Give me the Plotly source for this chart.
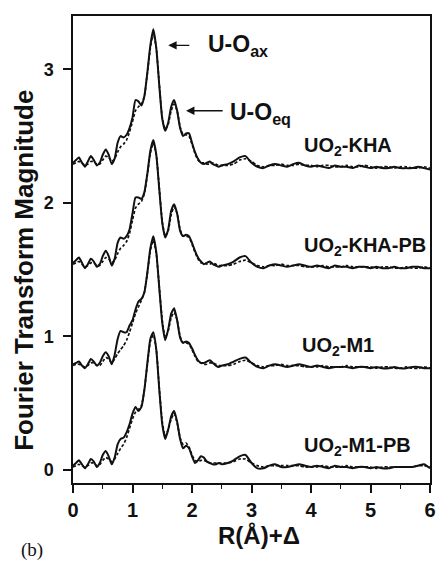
import plotly.graph_objects as go

# R grid (Å)
r = [0.00,0.05,0.10,0.15,0.20,0.25,0.30,0.35,0.40,0.45,
     0.50,0.55,0.60,0.65,0.70,0.75,0.80,0.85,0.90,0.95,
     1.00,1.05,1.10,1.15,1.20,1.25,1.30,1.35,1.40,1.45,
     1.50,1.55,1.60,1.65,1.70,1.75,1.80,1.85,1.90,1.95,
     2.00,2.05,2.10,2.15,2.20,2.25,2.30,2.35,2.40,2.45,
     2.50,
     2.6,2.7,2.8,2.9,3.0,3.1,3.2,3.3,3.4,3.5,
     3.6,3.7,3.8,3.9,4.0,4.1,4.2,4.3,4.4,4.5,
     4.6,4.7,4.8,4.9,5.0,5.1,5.2,5.3,5.4,5.5,
     5.6,5.7,5.8,5.9,6.0]

kha_data = [2.30,2.32,2.34,2.30,2.27,2.31,2.35,2.32,2.28,2.30,
            2.36,2.40,2.36,2.29,2.33,2.45,2.50,2.49,2.51,2.56,
            2.64,2.77,2.76,2.73,2.80,2.98,3.18,3.30,3.16,2.88,
            2.63,2.54,2.60,2.72,2.77,2.69,2.56,2.50,2.52,2.52,
            2.45,2.38,2.33,2.30,2.29,2.30,2.31,2.29,2.28,2.27,
            2.28,
            2.29,2.31,2.34,2.35,2.30,2.27,2.26,2.28,2.29,2.28,
            2.27,2.29,2.30,2.28,2.27,2.28,2.27,2.26,2.28,2.27,
            2.27,2.26,2.28,2.27,2.26,2.27,2.26,2.26,2.27,2.26,
            2.26,2.26,2.27,2.26,2.25]
kha_fit = [2.29,2.30,2.31,2.30,2.28,2.29,2.31,2.31,2.29,2.29,
           2.32,2.35,2.34,2.31,2.33,2.38,2.42,2.44,2.47,2.53,
           2.61,2.69,2.72,2.74,2.80,2.97,3.16,3.27,3.16,2.89,
           2.64,2.55,2.59,2.69,2.74,2.69,2.57,2.51,2.51,2.50,
           2.44,2.37,2.32,2.30,2.30,2.29,2.29,2.30,2.29,2.28,
           2.28,
           2.28,2.29,2.32,2.33,2.31,2.28,2.27,2.28,2.28,2.29,
           2.28,2.28,2.29,2.28,2.28,2.27,2.28,2.28,2.27,2.27,
           2.28,2.27,2.27,2.28,2.27,2.26,2.27,2.27,2.26,2.27,
           2.27,2.26,2.26,2.27,2.26]

khapb_data = [1.55,1.57,1.59,1.55,1.51,1.54,1.58,1.56,1.52,1.54,
              1.60,1.64,1.60,1.53,1.58,1.70,1.74,1.73,1.75,1.80,
              1.92,2.04,2.04,2.03,2.08,2.22,2.39,2.47,2.36,2.10,
              1.85,1.74,1.80,1.94,1.99,1.92,1.79,1.75,1.76,1.75,
              1.70,1.64,1.59,1.56,1.54,1.55,1.56,1.54,1.53,1.52,
              1.53,
              1.54,1.56,1.59,1.60,1.55,1.52,1.51,1.53,1.54,1.53,
              1.52,1.53,1.54,1.53,1.52,1.53,1.52,1.51,1.53,1.52,
              1.52,1.51,1.52,1.52,1.51,1.52,1.51,1.51,1.52,1.51,
              1.51,1.52,1.52,1.51,1.51]
khapb_fit = [1.54,1.55,1.56,1.54,1.52,1.53,1.55,1.55,1.53,1.53,
             1.56,1.59,1.58,1.55,1.57,1.62,1.66,1.68,1.71,1.77,
             1.87,1.96,1.99,2.01,2.07,2.21,2.37,2.45,2.36,2.11,
             1.86,1.75,1.79,1.91,1.97,1.92,1.80,1.75,1.75,1.74,
             1.69,1.63,1.58,1.55,1.55,1.54,1.54,1.55,1.54,1.53,
             1.53,
             1.53,1.54,1.56,1.57,1.55,1.53,1.52,1.53,1.53,1.54,
             1.53,1.53,1.53,1.52,1.52,1.52,1.53,1.52,1.52,1.52,
             1.53,1.52,1.52,1.52,1.52,1.51,1.52,1.52,1.51,1.51,
             1.52,1.51,1.51,1.52,1.51]

m1_data = [0.79,0.80,0.81,0.78,0.76,0.79,0.83,0.81,0.78,0.80,
           0.85,0.88,0.85,0.79,0.86,0.98,1.04,1.03,1.03,1.08,
           1.12,1.20,1.26,1.28,1.33,1.48,1.66,1.75,1.63,1.36,
           1.10,0.97,1.05,1.17,1.21,1.12,0.99,0.95,0.96,0.95,
           0.91,0.86,0.82,0.80,0.80,0.81,0.82,0.80,0.78,0.77,
           0.78,
           0.79,0.81,0.83,0.84,0.80,0.77,0.76,0.78,0.79,0.78,
           0.77,0.78,0.79,0.78,0.77,0.78,0.77,0.76,0.77,0.77,
           0.77,0.76,0.77,0.77,0.76,0.77,0.76,0.76,0.77,0.76,
           0.76,0.77,0.77,0.76,0.76]
m1_fit = [0.78,0.79,0.79,0.78,0.77,0.78,0.80,0.80,0.78,0.78,
          0.81,0.84,0.83,0.80,0.83,0.87,0.90,0.93,0.97,1.03,
          1.10,1.17,1.22,1.27,1.33,1.47,1.64,1.72,1.62,1.37,
          1.12,0.99,1.04,1.14,1.18,1.12,1.00,0.95,0.95,0.94,
          0.90,0.85,0.81,0.80,0.79,0.79,0.80,0.80,0.79,0.78,
          0.78,
          0.78,0.79,0.81,0.82,0.80,0.78,0.77,0.78,0.78,0.79,
          0.78,0.78,0.78,0.77,0.77,0.77,0.78,0.77,0.77,0.77,
          0.78,0.77,0.77,0.77,0.77,0.76,0.77,0.77,0.76,0.76,
          0.77,0.76,0.76,0.77,0.76]

m1pb_data = [0.03,0.05,0.07,0.04,0.01,0.04,0.08,0.06,0.02,0.05,
             0.11,0.14,0.10,0.04,0.09,0.19,0.23,0.24,0.28,0.34,
             0.42,0.47,0.44,0.47,0.60,0.80,0.98,1.03,0.90,0.60,
             0.34,0.23,0.30,0.40,0.44,0.36,0.23,0.16,0.18,0.16,
             0.10,0.05,0.07,0.10,0.09,0.06,0.05,0.04,0.04,0.05,
             0.04,
             0.05,0.07,0.10,0.11,0.05,0.01,0.01,0.03,0.04,0.02,
             0.02,0.03,0.04,0.03,0.02,0.03,0.02,0.01,0.03,0.02,
             0.02,0.01,0.02,0.02,0.01,0.02,0.01,0.01,0.02,0.02,
             0.02,0.02,0.03,0.04,0.01]
m1pb_fit = [0.02,0.03,0.04,0.03,0.02,0.03,0.05,0.05,0.03,0.04,
            0.07,0.09,0.08,0.06,0.08,0.12,0.16,0.19,0.24,0.31,
            0.38,0.43,0.45,0.48,0.60,0.79,0.96,1.01,0.90,0.61,
            0.36,0.25,0.30,0.38,0.42,0.35,0.24,0.19,0.20,0.17,
            0.11,0.07,0.06,0.07,0.07,0.06,0.05,0.05,0.05,0.05,
            0.05,
            0.05,0.06,0.08,0.08,0.05,0.03,0.02,0.03,0.03,0.03,
            0.03,0.03,0.03,0.02,0.02,0.02,0.03,0.02,0.02,0.02,
            0.03,0.02,0.02,0.02,0.02,0.01,0.02,0.02,0.02,0.02,
            0.02,0.02,0.03,0.03,0.02]

sample_labels = ["UO<sub>2</sub>-KHA", "UO<sub>2</sub>-KHA-PB",
                 "UO<sub>2</sub>-M1", "UO<sub>2</sub>-M1-PB"]
x_ticks = [0, 1, 2, 3, 4, 5, 6]
y_ticks = [0, 1, 2, 3]

FONT = "Liberation Sans, Arial, sans-serif"
INK = "#111111"

fig = go.Figure()
for data, fit in [(kha_data, kha_fit), (khapb_data, khapb_fit),
                  (m1_data, m1_fit), (m1pb_data, m1pb_fit)]:
    fig.add_trace(go.Scatter(x=r, y=fit, mode="lines",
                             line=dict(color=INK, width=1.7, dash="3px,2px", shape="spline", smoothing=0.5),
                             showlegend=False, hoverinfo="skip"))
    fig.add_trace(go.Scatter(x=r, y=data, mode="lines",
                             line=dict(color=INK, width=2.0, shape="spline", smoothing=0.5),
                             showlegend=False, hoverinfo="skip"))

label_pos = [(3.85, 2.42), (3.85, 1.67), (3.82, 0.92), (3.85, 0.17)]
annotations = []
for lab, (lx, ly) in zip(sample_labels, label_pos):
    annotations.append(dict(x=lx, y=ly, xref="x", yref="y", text=lab, showarrow=False,
                            xanchor="left", yanchor="middle",
                            font=dict(family=FONT, size=20, color=INK, weight="bold")))

# peak labels with arrows
annotations.append(dict(x=2.23, y=3.18, xref="x", yref="y", text="U-O<sub>ax</sub>",
                        showarrow=False, xanchor="left", yanchor="middle",
                        font=dict(family=FONT, size=23, color=INK, weight="bold")))
annotations.append(dict(x=1.60, y=3.18, xref="x", yref="y", ax=1.98, ay=3.18,
                        axref="x", ayref="y", text="", showarrow=True,
                        arrowhead=2, arrowsize=1.2, arrowwidth=1.4, arrowcolor=INK))
annotations.append(dict(x=2.61, y=2.67, xref="x", yref="y", text="U-O<sub>eq</sub>",
                        showarrow=False, xanchor="left", yanchor="middle",
                        font=dict(family=FONT, size=23, color=INK, weight="bold")))
annotations.append(dict(x=1.90, y=2.69, xref="x", yref="y", ax=2.54, ay=2.69,
                        axref="x", ayref="y", text="", showarrow=True,
                        arrowhead=2, arrowsize=1.2, arrowwidth=1.4, arrowcolor=INK))

# axis titles
annotations.append(dict(x=0.52, y=-0.112, xref="paper", yref="paper", text="R(Å)+Δ",
                        showarrow=False, xanchor="center", yanchor="middle",
                        font=dict(family=FONT, size=24, color=INK, weight="bold")))
annotations.append(dict(x=-0.138, y=0.456, xref="paper", yref="paper",
                        text="Fourier Transform Magnitude", textangle=-90,
                        showarrow=False, xanchor="center", yanchor="middle",
                        font=dict(family=FONT, size=26, color=INK, weight="bold")))
annotations.append(dict(x=-0.152, y=-0.143, xref="paper", yref="paper", text="(b)",
                        showarrow=False, xanchor="left", yanchor="middle",
                        font=dict(family="Liberation Serif, Times New Roman, serif", size=19, color=INK)))

fig.update_layout(
    width=442, height=561,
    margin=dict(l=73, r=6, t=16, b=78),
    paper_bgcolor="white", plot_bgcolor="white",
    annotations=annotations,
    showlegend=False,
)
fig.update_xaxes(range=[0, 6], tickvals=x_ticks, ticks="outside", ticklen=8, tickwidth=1.5,
                 tickcolor=INK, showline=True, linecolor=INK, linewidth=1.5, mirror=True,
                 showgrid=False, zeroline=False, ticklabelstandoff=0,
                 tickfont=dict(family=FONT, size=20, color=INK, weight="bold"),
                 minor=dict(ticks="outside", ticklen=4, tickwidth=1.2, tickcolor=INK, dtick=0.5, showgrid=False))
fig.update_yaxes(range=[-0.1, 3.4], tickvals=y_ticks, ticks="outside", ticklen=8, tickwidth=1.5,
                 tickcolor=INK, showline=True, linecolor=INK, linewidth=1.5, mirror=True,
                 showgrid=False, zeroline=False, ticklabelstandoff=6,
                 tickfont=dict(family=FONT, size=18, color=INK, weight="bold"))

fig.write_html("out.html")
